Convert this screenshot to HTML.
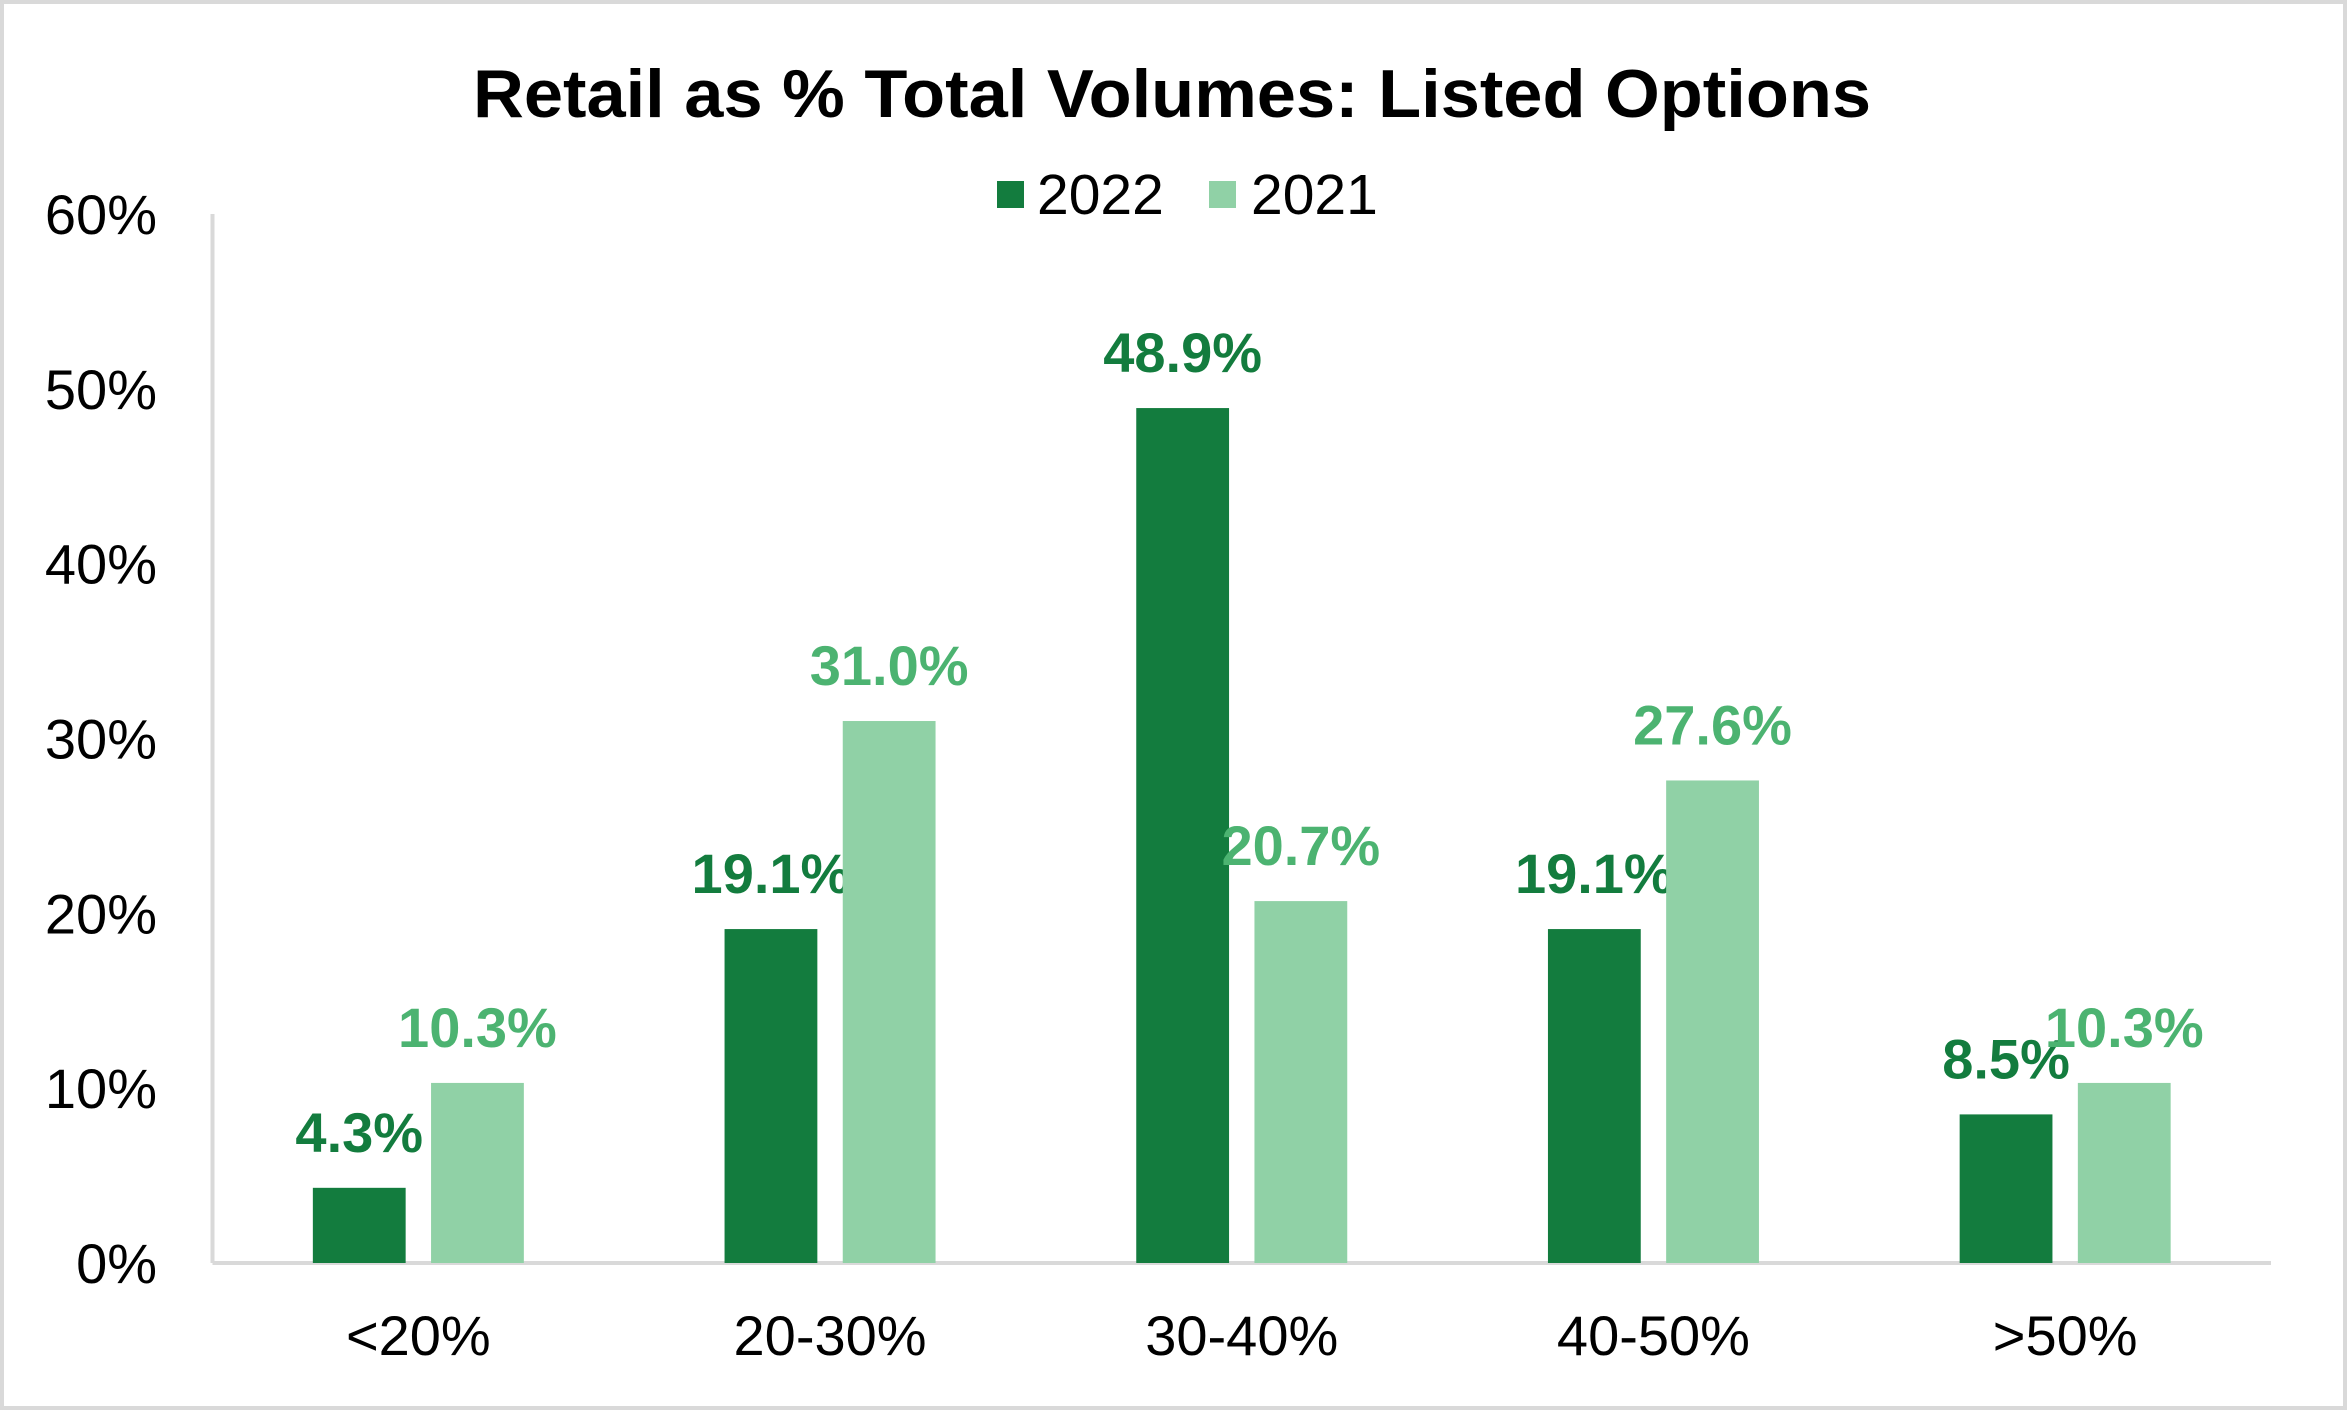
<!DOCTYPE html>
<html><head><meta charset="utf-8"><style>
html,body{margin:0;padding:0;background:#fff}
svg{display:block;font-family:"Liberation Sans",Arial,sans-serif}
</style></head><body>
<svg id="chart" width="2347" height="1410" viewBox="0 0 2347 1410">
<rect x="2" y="2" width="2343" height="1406" fill="#fff" stroke="#d9d9d9" stroke-width="4"/>
<text x="1172" y="117" text-anchor="middle" font-size="68" font-weight="bold" textLength="1398" lengthAdjust="spacingAndGlyphs">Retail as % Total Volumes: Listed Options</text>
<g>
<rect x="997" y="181" width="27" height="27" fill="#137c3e"/>
<text x="1037" y="214" font-size="57">2022</text>
<rect x="1209" y="181" width="27" height="27" fill="#90d1a6"/>
<text x="1251" y="214" font-size="57">2021</text>
</g>
<g id="plot"></g>
</svg>
<script>
const categories = ["<20%","20-30%","30-40%","40-50%",">50%"];
const values2022 = [4.3,19.1,48.9,19.1,8.5];
const values2021 = [10.3,31.0,20.7,27.6,10.3];
const yTicks = [0,10,20,30,40,50,60];

const NS="http://www.w3.org/2000/svg";
const plot=document.getElementById('plot');
const X0=212.5, X1=2271, Y0=1263, Y60=214, YMAX=60;
const catW=(X1-X0)/categories.length, barW=92.8, gap=25.4;
function yScale(v){return Y0-(v/YMAX)*(Y0-Y60);}
function xCenter(i){return X0+catW*(i+0.5);}
function mk(tag,attrs){const e=document.createElementNS(NS,tag);for(const k in attrs)e.setAttribute(k,attrs[k]);plot.appendChild(e);return e;}

yTicks.forEach(t=>{
  const e=mk('text',{x:157,y:yScale(t)+20,'text-anchor':'end','font-size':56,fill:'#000'});
  e.textContent=t+'%';
  
  
});
const ax=mk('line',{x1:X0,y1:Y60,x2:X0,y2:Y0,stroke:'#d9d9d9','stroke-width':4});


const bx=mk('line',{x1:X0,y1:Y0,x2:X1,y2:Y0,stroke:'#d9d9d9','stroke-width':4});



categories.forEach((c,i)=>{
  const cx=xCenter(i);
  const series=[[values2022[i],cx-gap/2-barW,'#137c3e','#137c3e','2022'],[values2021[i],cx+gap/2,'#90d1a6','#4cb371','2021']];
  series.forEach(([v,x,fill,lc,s])=>{
    const r=mk('rect',{x:x,y:yScale(v),width:barW,height:Y0-yScale(v),fill:fill});
    
    
    const t=mk('text',{x:x+barW/2,y:yScale(v)-36,'text-anchor':'middle','font-size':56,'font-weight':'bold',fill:lc});
    t.textContent=v.toFixed(1)+'%';
    
    
  });
  const l=mk('text',{x:cx,y:1355,'text-anchor':'middle','font-size':56,fill:'#000'});
  l.textContent=c;
  
  
});
</script>
</body></html>
